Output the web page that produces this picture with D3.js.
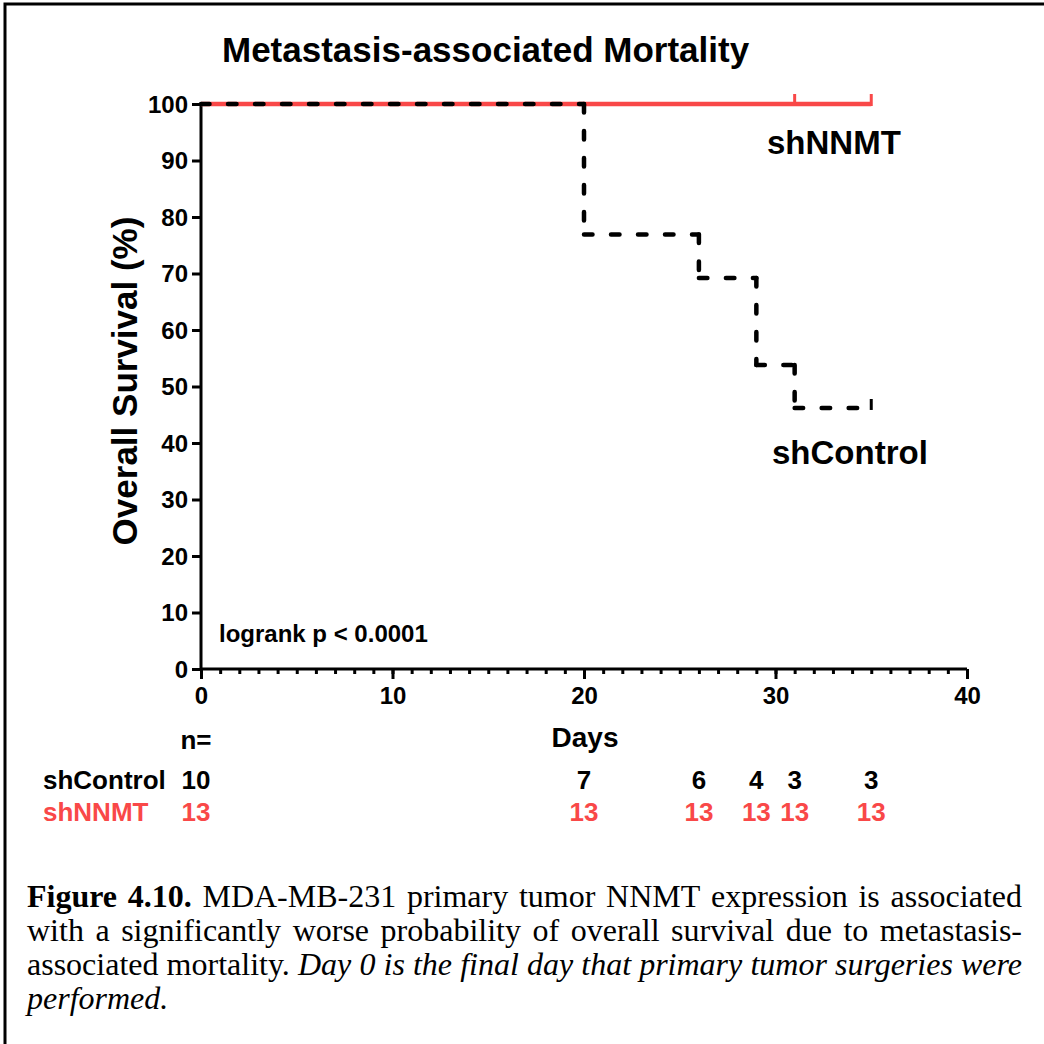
<!DOCTYPE html>
<html>
<head>
<meta charset="utf-8">
<script src="https://cdn.jsdelivr.net/npm/d3@7"></script>
<style>
  html, body { margin: 0; padding: 0; background: #fff; }
  svg { display: block; }
  .sans { font-family: "Liberation Sans", Arimo, Arial, sans-serif; font-weight: bold; }
  .serif { font-family: "Liberation Serif", Tinos, "Times New Roman", serif; }
</style>
</head>
<body>
<svg id="fig" width="1044" height="1044"></svg>
<script>
// ---- data ----
const controlTimes    = [0, 20, 26, 29, 31, 35];
const controlSurvival = [100, 76.9, 69.2, 53.8, 46.2, 46.2];
const controlCensored = [35];

const nnmtTimes    = [0, 35];
const nnmtSurvival = [100, 100];
const nnmtCensored = [31, 35];

const atRiskDays    = [0, 20, 26, 29, 31, 35];
const atRiskControl = [10, 7, 6, 4, 3, 3];
const atRiskNNMT    = [13, 13, 13, 13, 13, 13];

const xTickValues = [0, 10, 20, 30, 40];
const xMinorTicks = d3.range(0, 41, 1);
const yTickValues = [0, 10, 20, 30, 40, 50, 60, 70, 80, 90, 100];

const titleText  = "Metastasis-associated Mortality";
const yLabelText = "Overall Survival (%)";
const xLabelText = "Days";
const statText   = "logrank p < 0.0001";

const captionLines = [
  [{t: "Figure 4.10.", w: "bold"}, {t: "MDA-MB-231 primary tumor NNMT expression is associated"}],
  [{t: "with a significantly worse probability of overall survival due to metastasis-"}],
  [{t: "associated mortality."}, {t: "Day 0 is the final day that primary tumor surgeries were", s: "italic"}],
  [{t: "performed.", s: "italic"}]
];

// ---- setup ----
const RED = "#f94848";
const svg = d3.select("#fig");

const x = d3.scaleLinear().domain([0, 40]).range([201, 967]);
const y = d3.scaleLinear().domain([0, 100]).range([669, 104]);

function label(parent, px, py, str, size, anchor, fill) {
  return parent.append("text")
    .attr("class", "sans")
    .attr("x", px).attr("y", py)
    .style("font-size", size + "px")
    .attr("text-anchor", anchor || "start")
    .attr("fill", fill || "#000")
    .text(str);
}

// page frame
svg.append("path")
  .attr("d", "M5,1044 V4 H1044")
  .attr("fill", "none").attr("stroke", "#000").attr("stroke-width", 3);

// title
label(svg, 222, 62, titleText, 35);

// ---- axes ----
const axisY = svg.append("g")
  .attr("transform", `translate(${x(0)},0)`)
  .call(d3.axisLeft(y).tickValues(yTickValues).tickSize(9).tickPadding(4).tickSizeOuter(0));

const axisX = svg.append("g")
  .attr("transform", `translate(0,${y(0)})`)
  .call(d3.axisBottom(x).tickValues(xMinorTicks).tickSize(5).tickFormat("").tickSizeOuter(0));

const axisXMajor = svg.append("g")
  .attr("transform", `translate(0,${y(0)})`)
  .call(d3.axisBottom(x).tickValues(xTickValues).tickSize(10).tickPadding(8).tickSizeOuter(0));
axisXMajor.select(".domain").remove();

[axisY, axisX, axisXMajor].forEach(g => {
  g.attr("font-family", null).attr("font-size", null);
  g.selectAll(".domain").attr("stroke", "#000").attr("stroke-width", 3);
  g.selectAll(".tick line").attr("stroke", "#000").attr("stroke-width", 3);
  g.selectAll(".tick text")
    .attr("class", "sans")
    .attr("fill", "#000")
    .style("font-size", "24px");
});
axisY.select(".domain").attr("d", `M0,${y(100)}V${y(0)}`);
axisX.select(".domain").attr("d", `M${x(0)},0H${x(40)}`);
axisY.selectAll(".tick text").attr("dy", "0.35em");
axisXMajor.selectAll(".tick text").attr("dy", "0.71em");

// ---- survival curves ----
function stepSegments(times, surv) {
  const segs = [];
  for (let i = 0; i < times.length - 1; i++) {
    segs.push([[times[i], surv[i]], [times[i + 1], surv[i]]]);
    if (surv[i + 1] !== surv[i]) segs.push([[times[i + 1], surv[i]], [times[i + 1], surv[i + 1]]]);
  }
  return segs;
}
function survivalAt(times, surv, t) {
  let s = surv[0];
  for (let i = 0; i < times.length; i++) if (times[i] <= t) s = surv[i];
  return s;
}
const segLine = d3.line().x(d => x(d[0])).y(d => y(d[1]));

// shNNMT: solid red
svg.append("g").selectAll("path")
  .data(stepSegments(nnmtTimes, nnmtSurvival))
  .join("path")
  .attr("d", segLine)
  .attr("fill", "none").attr("stroke", RED).attr("stroke-width", 4.5);
svg.append("g").selectAll("line")
  .data(nnmtCensored)
  .join("line")
  .attr("x1", d => x(d)).attr("x2", d => x(d))
  .attr("y1", d => y(survivalAt(nnmtTimes, nnmtSurvival, d)) + 2)
  .attr("y2", d => y(survivalAt(nnmtTimes, nnmtSurvival, d)) - 10)
  .attr("stroke", RED).attr("stroke-width", 3);

// shControl: dashed black
svg.append("g").selectAll("path")
  .data(stepSegments(controlTimes, controlSurvival))
  .join("path")
  .attr("d", segLine)
  .attr("fill", "none").attr("stroke", "#000").attr("stroke-width", 4.5)
  .attr("stroke-linecap", "round")
  .attr("stroke-dasharray", "8.5 18.5");
svg.append("g").selectAll("line")
  .data(controlCensored)
  .join("line")
  .attr("x1", d => x(d)).attr("x2", d => x(d))
  .attr("y1", d => y(survivalAt(controlTimes, controlSurvival, d)) + 2)
  .attr("y2", d => y(survivalAt(controlTimes, controlSurvival, d)) - 9)
  .attr("stroke", "#000").attr("stroke-width", 3);

// curve labels
label(svg, 767, 154, "shNNMT", 33);
label(svg, 772, 464, "shControl", 33);

// statistic
label(svg, 219, 642, statText, 24);

// axis titles
label(svg, x(20) + 1, 747, xLabelText, 28, "middle");
svg.append("text")
  .attr("class", "sans")
  .attr("transform", `translate(137,381) rotate(-90)`)
  .style("font-size", "35px")
  .attr("text-anchor", "middle")
  .text(yLabelText);

// ---- number at risk ----
const riskX = d => x(d) - (d === 0 ? 5 : 0);
label(svg, riskX(0), 749, "n=", 26, "middle");
label(svg, 43, 789, "shControl", 26);
label(svg, 43, 821, "shNNMT", 26, "start", RED);
const riskG = svg.append("g");
atRiskDays.forEach((d, i) => {
  label(riskG, riskX(d), 789, String(atRiskControl[i]), 26, "middle");
  label(riskG, riskX(d), 821, String(atRiskNNMT[i]), 26, "middle", RED);
});

// ---- caption (justified) ----
const capLeft = 27, capRight = 1022, capTop = 907, capLead = 34, capSize = 32;
const capG = svg.append("g");
captionLines.forEach((runs, li) => {
  const words = [];
  runs.forEach(r => r.t.split(" ").forEach(w => words.push({t: w, w: r.w || "normal", s: r.s || "normal"})));
  const yy = capTop + li * capLead;
  const nodes = words.map(wd => {
    const t = capG.append("text")
      .attr("class", "serif")
      .attr("y", yy)
      .style("font-size", capSize + "px")
      .style("font-weight", wd.w).style("font-style", wd.s)
      .attr("fill", "#000")
      .text(wd.t);
    return {t, w: t.node().getComputedTextLength()};
  });
  const total = d3.sum(nodes, n => n.w);
  const last = li === captionLines.length - 1;
  const gap = last ? capSize * 0.25 : Math.max(4, (capRight - capLeft - total) / (nodes.length - 1));
  let cx = capLeft;
  nodes.forEach(n => { n.t.attr("x", cx); cx += n.w + gap; });
});
</script>
</body>
</html>
